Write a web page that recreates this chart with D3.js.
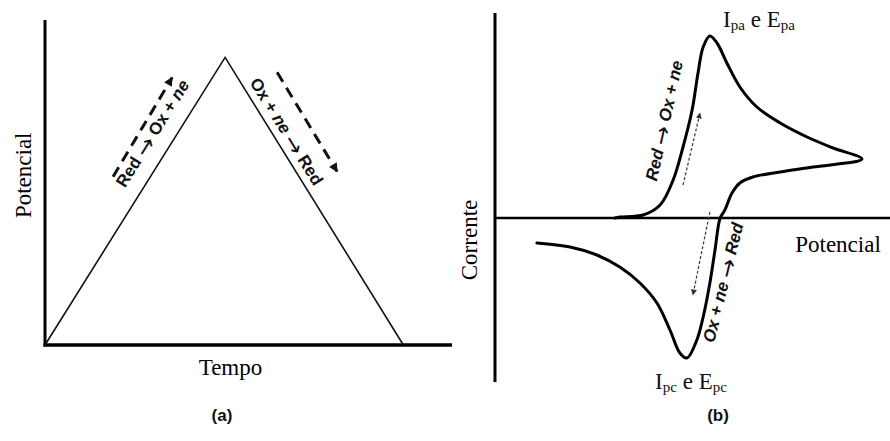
<!DOCTYPE html>
<html>
<head>
<meta charset="utf-8">
<script src="https://cdn.jsdelivr.net/npm/d3@7"></script>
<style>
  body { margin: 0; background: #fff; }
  svg { display: block; }
</style>
</head>
<body>
<svg id="fig" width="890" height="441"></svg>
<script>
// ---- Panel (a): triangular potential sweep ----
const rampTime = [0, 1, 1.99];
const rampPotential = [0, 1, 0];

// ---- Panel (b): cyclic voltammogram (arbitrary units) ----
const cvPotential = [30.4, 31.6, 37.5, 41.8, 45.1, 47.6, 49.9, 51.4, 52.7, 54.4, 56.2, 58.7, 62.0, 66.3,
  72.2, 79.0, 85.6, 92.9, 80.5, 72.2, 65.3, 62.0, 60.0, 58.2, 57.0, 55.7, 54.4, 52.7, 51.1, 48.6,
  46.8, 44.3, 41.0, 36.7, 31.6, 25.8, 19.0, 10.6];
const cvCurrent = [0, 0.5, 1.5, 6.5, 19, 35.5, 54, 72.5, 85.5, 91, 87.5, 77.5, 65.5, 55.5,
  47.5, 40.5, 35, 29.5, 25.5, 23, 20.5, 17.5, 12.5, 4, 0, -16, -32.5, -49.5, -61, -70,
  -67.5, -56, -42.5, -32.5, -24.5, -18.5, -14.5, -12.5];

// Text
const panelTags = ["(a)", "(b)"];
const titlesA = { x: "Tempo", y: "Potencial" };
const titlesB = { x: "Potencial", y: "Corrente" };

const svg = d3.select("#fig");
const serif = "'Liberation Serif', 'Times New Roman', serif";
const sans = "'Liberation Sans', Arial, sans-serif";
const arrowFont = "'DejaVu Sans', sans-serif";

// Arrowhead markers
const defs = svg.append("defs");
defs.append("marker").attr("id", "headBig")
  .attr("viewBox", "0 0 10 10").attr("refX", 9).attr("refY", 5)
  .attr("markerWidth", 11).attr("markerHeight", 9).attr("markerUnits", "userSpaceOnUse")
  .attr("orient", "auto")
  .append("path").attr("d", "M0,0 L10,5 L0,10 Z").attr("fill", "#111");
defs.append("marker").attr("id", "headSmall")
  .attr("viewBox", "0 0 10 10").attr("refX", 9).attr("refY", 5)
  .attr("markerWidth", 7).attr("markerHeight", 6).attr("markerUnits", "userSpaceOnUse")
  .attr("orient", "auto")
  .append("path").attr("d", "M0,0 L10,5 L0,10 Z").attr("fill", "#333");

// ================= Panel (a) =================
const xA = d3.scaleLinear().domain([0, 2.26]).range([45, 452]);
const yA = d3.scaleLinear().domain([0, 1.13]).range([345, 20]);
const gA = svg.append("g");

gA.append("line").attr("x1", xA(0)).attr("x2", xA(0)).attr("y1", yA(1.13)).attr("y2", yA(0) + 1.5)
  .attr("stroke", "#000").attr("stroke-width", 3);
gA.append("line").attr("x1", xA(0) - 1.5).attr("x2", xA(2.26)).attr("y1", yA(0)).attr("y2", yA(0))
  .attr("stroke", "#000").attr("stroke-width", 3.5);

const ramp = rampTime.map((t, i) => [t, rampPotential[i]]);
gA.append("path").datum(ramp)
  .attr("d", d3.line().x(d => xA(d[0])).y(d => yA(d[1])))
  .attr("fill", "none").attr("stroke", "#111").attr("stroke-width", 1.6);

// dashed direction arrows, parallel to each ramp
const sweepArrows = [
  { from: [0.378, 0.585], to: [0.706, 0.930] },
  { from: [1.289, 0.948], to: [1.622, 0.603] }
];
gA.selectAll(".sweep").data(sweepArrows).join("line")
  .attr("x1", d => xA(d.from[0])).attr("y1", d => yA(d.from[1]))
  .attr("x2", d => xA(d.to[0])).attr("y2", d => yA(d.to[1]))
  .attr("stroke", "#111").attr("stroke-width", 3)
  .attr("stroke-dasharray", "11,7")
  .attr("marker-end", "url(#headBig)");

function angleOf(p0, p1, xs, ys) {
  return Math.atan2(ys(p1[1]) - ys(p0[1]), xs(p1[0]) - xs(p0[0])) * 180 / Math.PI;
}

const upAngle = angleOf(ramp[0], ramp[1], xA, yA);
const downAngle = angleOf(ramp[1], ramp[2], xA, yA);

// rotated reaction label; parts: {s: text, it: italic, arrow: drawn in arrow font}
function reaction(g, x, y, angle, parts, size, italicAll) {
  const t = g.append("text")
    .attr("transform", `translate(${x},${y}) rotate(${angle})`)
    .attr("text-anchor", "middle").attr("dominant-baseline", "middle")
    .attr("font-family", sans).attr("font-weight", "bold").attr("font-size", size)
    .attr("fill", "#111");
  parts.forEach(p => {
    const ts = t.append("tspan").text(p.s)
      .attr("font-style", (p.it || italicAll) ? "italic" : "normal");
    if (p.arrow) ts.attr("font-family", arrowFont).attr("font-weight", "normal")
      .attr("font-size", size * 1.35).attr("font-style", "normal");
  });
}

reaction(gA, xA(0.606), yA(0.732), upAngle,
  [{ s: "Red " }, { s: "\u2192", arrow: true }, { s: " Ox + " }, { s: "ne", it: true }], 17, false);
reaction(gA, xA(1.333), yA(0.739), downAngle,
  [{ s: "Ox + " }, { s: "ne", it: true }, { s: " " }, { s: "\u2192", arrow: true }, { s: " Red" }], 17, false);

gA.append("text").attr("x", xA(1.03)).attr("y", 375)
  .attr("text-anchor", "middle").attr("font-family", serif).attr("font-size", 23)
  .text(titlesA.x);
gA.append("text").attr("transform", `translate(31,${yA(0.59)}) rotate(-90)`)
  .attr("text-anchor", "middle").attr("font-family", serif).attr("font-size", 23)
  .text(titlesA.y);

// ================= Panel (b) =================
const xB = d3.scaleLinear().domain([0, 100]).range([495, 890]);
const yB = d3.scaleLinear().domain([-82, 102.5]).range([382, 13]);
const gB = svg.append("g");

gB.append("line").attr("x1", xB(0)).attr("x2", xB(0)).attr("y1", yB(102.5)).attr("y2", yB(-82))
  .attr("stroke", "#000").attr("stroke-width", 3);
gB.append("line").attr("x1", xB(0)).attr("x2", xB(100)).attr("y1", yB(0)).attr("y2", yB(0))
  .attr("stroke", "#000").attr("stroke-width", 2.5);

const cv = cvPotential.map((e, i) => [e, cvCurrent[i]]);
gB.append("path").datum(cv)
  .attr("d", d3.line().x(d => xB(d[0])).y(d => yB(d[1])).curve(d3.curveCatmullRom.alpha(0.5)))
  .attr("fill", "none").attr("stroke", "#000").attr("stroke-width", 3)
  .attr("stroke-linejoin", "round").attr("stroke-linecap", "round");

const scanArrows = [
  { from: [47.6, 16.5], to: [51.9, 52.5] },
  { from: [54.4, 3], to: [50.1, -38.5] }
];
gB.selectAll(".scan").data(scanArrows).join("line")
  .attr("x1", d => xB(d.from[0])).attr("y1", d => yB(d.from[1]))
  .attr("x2", d => xB(d.to[0])).attr("y2", d => yB(d.to[1]))
  .attr("stroke", "#444").attr("stroke-width", 1.3)
  .attr("stroke-dasharray", "3,2")
  .attr("marker-end", "url(#headSmall)");

reaction(gB, xB(43.3), yB(48.5), -77.6,
  [{ s: "Red " }, { s: "\u2192", arrow: true }, { s: " Ox + ne" }], 17, true);
reaction(gB, xB(58.2), yB(-32.5), -76,
  [{ s: "Ox + ne " }, { s: "\u2192", arrow: true }, { s: " Red" }], 17, true);

function peakLabel(x, y, sub) {
  const t = gB.append("text").attr("x", x).attr("y", y).attr("text-anchor", "middle")
    .attr("font-family", serif).attr("font-size", 23).attr("fill", "#111");
  t.append("tspan").text("I");
  t.append("tspan").text(sub).attr("font-size", 15).attr("dy", 3);
  t.append("tspan").text(" e E").attr("dy", -3);
  t.append("tspan").text(sub).attr("font-size", 15).attr("dy", 3);
}
peakLabel(759, 27, "pa");
peakLabel(691, 389, "pc");

gB.append("text").attr("x", 838).attr("y", 252)
  .attr("text-anchor", "middle").attr("font-family", serif).attr("font-size", 23)
  .text(titlesB.x);
gB.append("text").attr("transform", `translate(477,${yB(-11)}) rotate(-90)`)
  .attr("text-anchor", "middle").attr("font-family", serif).attr("font-size", 23)
  .text(titlesB.y);

// panel tags
svg.selectAll(".tag").data(panelTags).join("text")
  .attr("x", (d, i) => [222, 718][i]).attr("y", 421)
  .attr("text-anchor", "middle").attr("font-family", sans).attr("font-weight", "bold")
  .attr("font-size", 17).attr("fill", "#111")
  .text(d => d);
</script>
</body>
</html>
